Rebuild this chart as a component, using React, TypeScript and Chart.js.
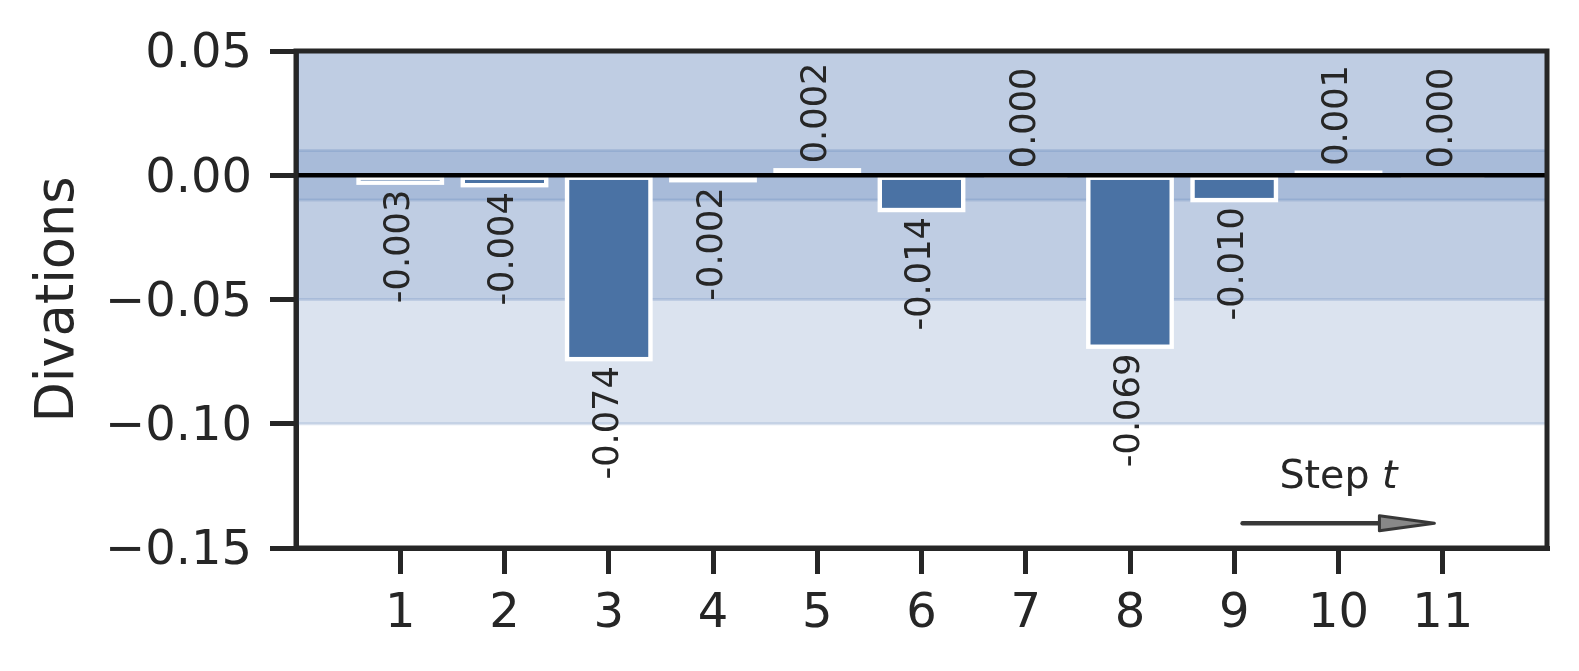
import React, { useEffect, useRef } from "react";
import { Chart, registerables } from "chart.js";

Chart.register(...registerables);

// ---- data ----
const steps = [1, 2, 3, 4, 5, 6, 7, 8, 9, 10, 11];
const deviations = [-0.003, -0.004, -0.074, -0.002, 0.002, -0.014, 0.0, -0.069, -0.01, 0.001, 0.0];
const xTicks = [1, 2, 3, 4, 5, 6, 7, 8, 9, 10, 11];
const yTicks = [-0.15, -0.1, -0.05, 0.0, 0.05];
const bandHalfWidths = [0.1, 0.05, 0.01];
const yTitle = "Divations";
const stepLabel = "Step ";
const stepLabelItalic = "t";
const arrowFrom = { x: 9.08, y: -0.14 };
const arrowTo = { x: 10.92, y: -0.14 };
const stepLabelAt = { x: 10, y: -0.12 };

// ---- style ----
const FONT = "'DejaVu Sans', 'Liberation Sans', sans-serif";
const INK = "#262626";
const BAR = "rgb(74,114,164)";
const BAND = "rgba(76,114,176,0.2)";

const fmtY = (v: number) => v.toFixed(2).replace("-", "\u2212");

const decor = {
  id: "decor",
  beforeDatasetsDraw(chart: any) {
    const { ctx, chartArea: a, scales } = chart;
    const y = scales.y;
    ctx.save();
    ctx.beginPath();
    ctx.rect(a.left, a.top, a.right - a.left, a.bottom - a.top);
    ctx.clip();
    for (const h of bandHalfWidths) {
      const t = y.getPixelForValue(h);
      const b = y.getPixelForValue(-h);
      ctx.fillStyle = BAND;
      ctx.fillRect(a.left, t, a.right - a.left, b - t);
      ctx.strokeStyle = BAND;
      ctx.lineWidth = 3;
      ctx.beginPath();
      ctx.moveTo(a.left, t);
      ctx.lineTo(a.right, t);
      ctx.moveTo(a.left, b);
      ctx.lineTo(a.right, b);
      ctx.stroke();
    }
    ctx.restore();
  },
  afterDatasetsDraw(chart: any) {
    const { ctx, chartArea: a, scales } = chart;
    const x = scales.x;
    const y = scales.y;
    const meta = chart.getDatasetMeta(0);
    ctx.save();
    ctx.beginPath();
    ctx.rect(a.left, a.top, a.right - a.left, a.bottom - a.top);
    ctx.clip();

    // white bar edges (centred on the bar outline)
    ctx.strokeStyle = "#ffffff";
    ctx.lineWidth = 4.4;
    ctx.lineJoin = "miter";
    meta.data.forEach((el: any) => {
      const left = el.x - el.width / 2;
      const top = Math.min(el.y, el.base);
      const h = Math.abs(el.y - el.base);
      ctx.strokeRect(left, top, el.width, h);
    });

    // zero line
    const y0 = y.getPixelForValue(0);
    ctx.strokeStyle = "#000000";
    ctx.lineWidth = 4.5;
    ctx.beginPath();
    ctx.moveTo(a.left, y0);
    ctx.lineTo(a.right, y0);
    ctx.stroke();
    ctx.restore();

    ctx.save();
    // bar value labels
    const fs = 35.2;
    ctx.font = `${fs}px ${FONT}`;
    ctx.fillStyle = INK;
    ctx.textBaseline = "alphabetic";
    meta.data.forEach((el: any, i: number) => {
      const v = deviations[i];
      const px = el.x;
      const py = y.getPixelForValue(v);
      ctx.save();
      if (v < 0) {
        ctx.translate(px + fs * 0.25, py + 7);
        ctx.rotate(-Math.PI / 2);
        ctx.textAlign = "right";
      } else {
        ctx.translate(px + fs * 0.25, py - 7);
        ctx.rotate(-Math.PI / 2);
        ctx.textAlign = "left";
      }
      ctx.fillText(v.toFixed(3), 0, 0);
      ctx.restore();
    });

    // arrow
    const ax0 = x.getPixelForValue(arrowFrom.x);
    const ay = y.getPixelForValue(arrowFrom.y);
    const ax1 = x.getPixelForValue(arrowTo.x);
    const headLen = 55;
    const headHalf = 7.5;
    ctx.strokeStyle = "#383838";
    ctx.lineWidth = 4.5;
    ctx.lineCap = "round";
    ctx.beginPath();
    ctx.moveTo(ax0, ay);
    ctx.lineTo(ax1 - headLen, ay);
    ctx.stroke();
    ctx.beginPath();
    ctx.moveTo(ax1, ay);
    ctx.lineTo(ax1 - headLen, ay - headHalf);
    ctx.lineTo(ax1 - headLen, ay + headHalf);
    ctx.closePath();
    ctx.fillStyle = "#888888";
    ctx.fill();
    ctx.lineWidth = 3;
    ctx.lineJoin = "round";
    ctx.stroke();

    // "Step t"
    const sfs = 39.6;
    const tx = x.getPixelForValue(stepLabelAt.x);
    const ty = y.getPixelForValue(stepLabelAt.y) + sfs * 0.38;
    ctx.font = `${sfs}px ${FONT}`;
    const w1 = ctx.measureText(stepLabel).width;
    ctx.font = `italic ${sfs}px ${FONT}`;
    const w2 = ctx.measureText(stepLabelItalic).width;
    const start = tx - (w1 + w2) / 2;
    ctx.fillStyle = INK;
    ctx.textAlign = "left";
    ctx.font = `${sfs}px ${FONT}`;
    ctx.fillText(stepLabel, start, ty);
    ctx.font = `italic ${sfs}px ${FONT}`;
    ctx.fillText(stepLabelItalic, start + w1, ty);
    ctx.restore();
  },
  afterDraw(chart: any) {
    const { ctx, chartArea: a } = chart;
    ctx.save();
    ctx.strokeStyle = INK;
    ctx.lineWidth = 5;
    ctx.lineJoin = "miter";
    ctx.strokeRect(a.left, a.top, a.right - a.left, a.bottom - a.top);
    ctx.restore();
  },
};

export default function App() {
  const ref = useRef<HTMLCanvasElement | null>(null);
  useEffect(() => {
    if (!ref.current) return;
    const chart = new Chart(ref.current, {
      type: "bar",
      data: {
        datasets: [
          {
            data: steps.map((s, i) => ({ x: s, y: deviations[i] })),
            backgroundColor: BAR,
            borderWidth: 0,
            barPercentage: 0.8,
            categoryPercentage: 1,
          } as any,
        ],
      },
      options: {
        responsive: false,
        animation: false,
        devicePixelRatio: 1,
        layout: { padding: { left: 0, top: 51, right: 32, bottom: 0 } },
        plugins: { legend: { display: false }, tooltip: { enabled: false } },
        scales: {
          x: {
            type: "linear",
            min: 0,
            max: 12,
            offset: false,
            afterBuildTicks: (s: any) => {
              s.ticks = xTicks.map((v) => ({ value: v }));
            },
            afterFit: (s: any) => {
              s.height = 123;
            },
            grid: {
              offset: false,
              drawOnChartArea: false,
              drawTicks: true,
              tickLength: 26,
              lineWidth: 5,
              tickWidth: 5,
              color: INK,
              tickColor: INK,
            },
            border: { display: true, width: 5, color: INK },
            ticks: {
              font: { family: FONT, size: 48 },
              color: INK,
              padding: 12,
              maxRotation: 0,
              autoSkip: false,
              callback: (v: any) => String(v),
            },
          },
          y: {
            type: "linear",
            min: -0.15,
            max: 0.05,
            afterBuildTicks: (s: any) => {
              s.ticks = yTicks.map((v) => ({ value: v }));
            },
            afterFit: (s: any) => {
              s.width = 296;
            },
            grid: {
              drawOnChartArea: false,
              drawTicks: true,
              tickLength: 26,
              lineWidth: 5,
              tickWidth: 5,
              color: INK,
              tickColor: INK,
            },
            border: { display: true, width: 5, color: INK },
            ticks: {
              font: { family: FONT, size: 48 },
              color: INK,
              padding: 18,
              labelOffset: 4,
              callback: (v: any) => fmtY(Number(v)),
            },
            title: {
              display: true,
              text: yTitle,
              color: INK,
              font: { family: FONT, size: 52.5 },
              padding: { top: 28, bottom: 0 },
            },
          },
        },
      },
      plugins: [decor],
    } as any);
    return () => chart.destroy();
  }, []);
  return (
    <div style={{ position: "fixed", left: 0, top: 0, width: 1579, height: 671, background: "#ffffff" }}>
      <canvas ref={ref} width={1579} height={671} style={{ display: "block" }} />
    </div>
  );
}
